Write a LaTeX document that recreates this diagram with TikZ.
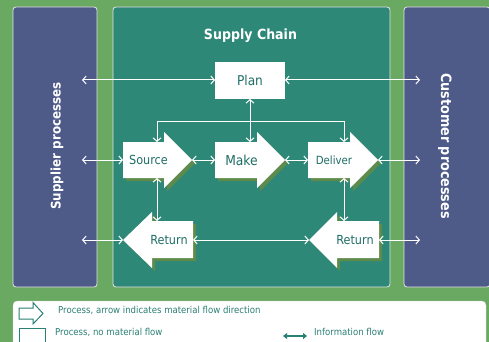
\documentclass[tikz,border=0pt]{standalone}
\usepackage{fontspec}
\setmainfont{DejaVu Sans}[FakeStretch=0.9]
\usetikzlibrary{arrows.meta}
\definecolor{bggreen}{HTML}{69A961}
\definecolor{tealbox}{HTML}{2E8878}
\definecolor{purp}{HTML}{4E5A88}
\definecolor{tealtxt}{HTML}{1F6E66}
\definecolor{legtxt}{HTML}{2A8074}
\definecolor{shadowc}{HTML}{5E8B4C}
\begin{document}
\begin{tikzpicture}[x=1pt,y=-1pt,
  info/.style={white, line width=1pt, {Straight Barb[length=3.5pt,width=8pt]}-{Straight Barb[length=3.5pt,width=8pt]}},
  shad/.style={fill=shadowc, shift={(3,3)}},
  proc/.style={fill=white},
  panel/.style={rounded corners=3pt, draw=white!80!gray, line width=0.8pt},
  ptxt/.style={text=tealtxt, inner sep=0pt},
  sidetxt/.style={text=white, font=\bfseries, inner sep=0pt},
  legt/.style={text=legtxt, inner sep=0pt, anchor=west, font=\fontsize{9.5}{11}\selectfont},
]
\useasboundingbox (0,0) rectangle (489,342);
\fill[bggreen] (0,0) rectangle (489,342);

% panels
\draw[panel, fill=purp] (13,7) rectangle (97,287);
\draw[panel, fill=tealbox] (113,7) rectangle (390,287);
\draw[panel, fill=purp] (404,7) rectangle (490,287);
\node[sidetxt, rotate=90, font=\fontsize{13.2}{15}\selectfont\bfseries] (suptxt) at (57,146) {Supplier processes};
\node[sidetxt, rotate=-90, font=\fontsize{14.2}{16}\selectfont\bfseries] (custxt) at (445,146) {Customer processes};
\node[sidetxt, font=\fontsize{14}{16}\selectfont\bfseries] (title) at (250.5,36) {Supply Chain};

% shadows
\fill[shad] (123,142) -- (164,142) -- (164,132) -- (192,160) -- (164,188) -- (164,178) -- (123,178) -- cycle;
\fill[shad] (215,142) -- (257,142) -- (257,132) -- (285,160) -- (257,188) -- (257,178) -- (215,178) -- cycle;
\fill[shad] (308,142) -- (350,142) -- (350,132) -- (378,160) -- (350,188) -- (350,178) -- (308,178) -- cycle;
\fill[shad] (123,240) -- (152,212) -- (152,221) -- (193,221) -- (193,258) -- (152,258) -- (152,268) -- cycle;
\fill[shad] (309,240) -- (337,212) -- (337,221) -- (379,221) -- (379,258) -- (337,258) -- (337,268) -- cycle;

% process shapes
\fill[proc] (215,62) rectangle (285,99);
\fill[proc] (123,142) -- (164,142) -- (164,132) -- (192,160) -- (164,188) -- (164,178) -- (123,178) -- cycle;
\fill[proc] (215,142) -- (257,142) -- (257,132) -- (285,160) -- (257,188) -- (257,178) -- (215,178) -- cycle;
\fill[proc] (308,142) -- (350,142) -- (350,132) -- (378,160) -- (350,188) -- (350,178) -- (308,178) -- cycle;
\fill[proc] (123,240) -- (152,212) -- (152,221) -- (193,221) -- (193,258) -- (152,258) -- (152,268) -- cycle;
\fill[proc] (309,240) -- (337,212) -- (337,221) -- (379,221) -- (379,258) -- (337,258) -- (337,268) -- cycle;

\node[ptxt, font=\fontsize{13.5}{15}\selectfont] (plan) at (250,80) {Plan};
\node[ptxt, font=\fontsize{12.5}{14}\selectfont] (source) at (148.5,160) {Source};
\node[ptxt, font=\fontsize{13.7}{15}\selectfont] (make) at (241.5,160) {Make};
\node[ptxt, font=\fontsize{11.3}{13}\selectfont] (deliver) at (334,160) {Deliver};
\node[ptxt, font=\fontsize{12.5}{14}\selectfont] (retl) at (169,240) {Return};
\node[ptxt, font=\fontsize{12.5}{14}\selectfont] (retr) at (355,240) {Return};

% connector end points
\coordinate (supA) at (82,80);
\coordinate (supB) at (82,160);
\coordinate (supC) at (82,240);
\coordinate (cusA) at (420,80);
\coordinate (cusB) at (420,160);
\coordinate (cusC) at (420,240);
\coordinate (planW) at (215,80);
\coordinate (planE) at (285,80);
\coordinate (planS) at (250,99);
\coordinate (srcW) at (123,160);
\coordinate (srcE) at (192,160);
\coordinate (srcN) at (157,142);
\coordinate (srcS) at (157,178);
\coordinate (makW) at (215,160);
\coordinate (makE) at (285,160);
\coordinate (makN) at (250,142);
\coordinate (delW) at (308,160);
\coordinate (delE) at (378,160);
\coordinate (delN) at (344,142);
\coordinate (delS) at (344,178);
\coordinate (rlW) at (123,240);
\coordinate (rlE) at (193,240);
\coordinate (rlN) at (157,221);
\coordinate (rrW) at (309,240);
\coordinate (rrE) at (379,240);
\coordinate (rrN) at (344,221);

\draw[info] (supA) -- (planW);
\draw[info] (planE) -- (cusA);
\draw[info] (supB) -- (srcW);
\draw[info] (srcE) -- (makW);
\draw[info] (makE) -- (delW);
\draw[info] (delE) -- (cusB);
\draw[info] (planS) -- (makN);
\draw[info] (srcN) -- ++(0,-21) -| (delN);
\draw[info] (srcS) -- (rlN);
\draw[info] (delS) -- (rrN);
\draw[info] (supC) -- (rlW);
\draw[info] (rlE) -- (rrW);
\draw[info] (rrE) -- (cusC);

% legend
\draw[rounded corners=4pt, draw=gray!40, fill=white] (13,301) rectangle (486,352);
\draw[draw=legtxt, line width=1pt] (19,308) -- (33,308) -- (33,302.5) -- (43,313.5) -- (33,324) -- (33,319) -- (19,319) -- cycle;
\draw[draw=legtxt, line width=1pt] (19,328) rectangle (45,346);
\coordinate (infoA) at (283,336);
\coordinate (infoB) at (307,336);
\draw[legtxt, line width=1.8pt, {Triangle[length=4pt,width=6pt]}-{Triangle[length=4pt,width=6pt]}] (infoA) -- (infoB);
\node[legt] (leg1) at (58,310.5) {Process, arrow indicates material flow direction};
\node[legt] (leg2) at (55,332) {Process, no material flow};
\node[legt] (leg3) at (314,332) {Information flow};
\end{tikzpicture}
\end{document}
